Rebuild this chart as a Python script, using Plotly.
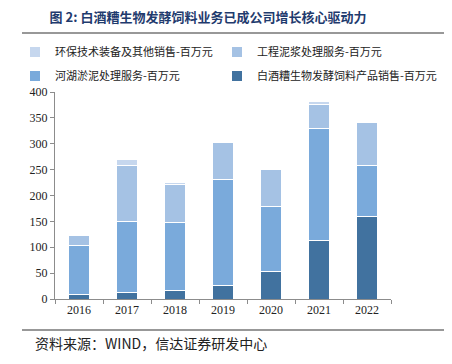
import plotly.graph_objects as go

years = ["2016", "2017", "2018", "2019", "2020", "2021", "2022"]
feed_sales = [8, 13, 16, 27, 53, 113, 159]          # 白酒糟生物发酵饲料产品销售
river_silt = [96, 136, 131, 204, 125, 216, 99]      # 河湖淤泥处理服务
mud_service = [18, 109, 74, 72, 72, 47, 83]         # 工程泥浆处理服务
other_sales = [0, 11, 5, 0, 0, 5, 0]                # 环保技术装备及其他销售

names = {
    "feed": "白酒糟生物发酵饲料产品销售-百万元",
    "river": "河湖淤泥处理服务-百万元",
    "mud": "工程泥浆处理服务-百万元",
    "other": "环保技术装备及其他销售-百万元",
}
colors = {
    "feed": "#41729F",
    "river": "#7AAADB",
    "mud": "#A5C2E4",
    "other": "#C6D7EE",
}

serif = "Liberation Serif, Times New Roman, serif"
cjk = "Noto Sans CJK SC, sans-serif"

# page body has an 8px margin; lay out in window pixels and shift
OFF = 8
W, H = 452 - OFF, 364 - OFF
L, T, PW, PH = 55 - OFF, 92 - OFF, 336, 207


def xp(px):
    return (px - OFF - L) / PW


def yp(py):
    return (T + PH - (py - OFF)) / PH


fig = go.Figure()
# stacking order bottom -> top, with legend slot (legend x px, row y px) in window pixels
series = [
    ("feed", feed_sales, "legend4", 217, 76),
    ("river", river_silt, "legend3", 15, 76),
    ("mud", mud_service, "legend2", 217, 52),
    ("other", other_sales, "legend", 15, 52),
]
legends = {}
for key, vals, lg, lx, ly in series:
    fig.add_trace(go.Bar(
        x=years, y=vals, name=names[key],
        marker=dict(color=colors[key], line=dict(color="white", width=1)),
        legend=lg, showlegend=True,
    ))
    legends[lg] = dict(
        x=(lx - OFF) / W, y=1 - (ly - OFF) / H, xref="container", yref="container",
        xanchor="left", yanchor="middle", orientation="h",
        font=dict(family=cjk, size=11, color="#222222"),
        bgcolor="rgba(0,0,0,0)", itemsizing="constant",
    )

fig.update_layout(
    width=W, height=H, showlegend=True,
    margin=dict(l=L, r=W - L - PW, t=T, b=H - T - PH, autoexpand=False),
    title=dict(
        text="<b>图 2: 白酒糟生物发酵饲料业务已成公司增长核心驱动力</b>",
        x=(208 - OFF) / W, xref="container", xanchor="center",
        y=1 - (17 - OFF) / H, yref="container", yanchor="middle",
        pad=dict(l=0, r=0, t=0, b=0),
        font=dict(family=cjk, size=13, color="#1F3B6E"),
    ),
    barmode="stack", bargap=0.57,
    plot_bgcolor="white", paper_bgcolor="white",
    font=dict(family=serif, size=12, color="#222222"),
    xaxis=dict(
        type="category", showline=True, linecolor="#8c8c8c", linewidth=1,
        ticks="outside", tickson="boundaries", ticklen=4, tickcolor="#8c8c8c",
        tickfont=dict(family=serif, size=12, color="#222222"),
        showgrid=False,
    ),
    yaxis=dict(
        range=[0, 400], dtick=50, showline=True, linecolor="#8c8c8c", linewidth=1,
        ticks="outside", ticklen=4, tickcolor="#8c8c8c", showgrid=False,
        tickfont=dict(family=serif, size=12, color="#222222"),
        zeroline=False,
    ),
    **legends,
)

fig.add_annotation(
    text="资料来源：WIND，信达证券研发中心",
    xref="paper", yref="paper", x=xp(33), y=yp(343),
    xanchor="left", yanchor="middle", showarrow=False,
    font=dict(family=cjk, size=14, color="#222222"),
)
# header and footer rules
for ypix in (33, 330):
    fig.add_shape(
        type="line", xref="paper", yref="paper",
        x0=xp(22), x1=xp(450), y0=yp(ypix), y1=yp(ypix),
        line=dict(color="#333333", width=1.2),
    )

fig.write_html("out.html")
